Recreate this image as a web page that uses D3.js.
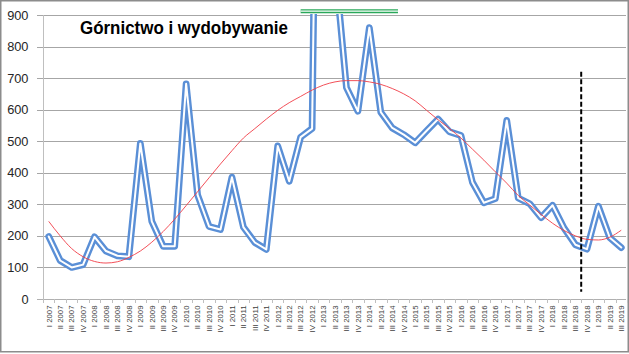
<!DOCTYPE html>
<html><head><meta charset="utf-8">
<script src="https://cdn.jsdelivr.net/npm/d3@7"></script>
<style>body{margin:0;background:#fff}svg{display:block}</style>
</head><body>
<script>
const title = "Górnictwo i wydobywanie";
const categories = [
  "I 2007","II 2007","III 2007","IV 2007",
  "I 2008","II 2008","III 2008","IV 2008",
  "I 2009","II 2009","III 2009","IV 2009",
  "I 2010","II 2010","III 2010","IV 2010",
  "I 2011","II 2011","III 2011","IV 2011",
  "I 2012","II 2012","III 2012","IV 2012",
  "I 2013","II 2013","III 2013","IV 2013",
  "I 2014","II 2014","III 2014","IV 2014",
  "I 2015","II 2015","III 2015","IV 2015",
  "I 2016","II 2016","III 2016","IV 2016",
  "I 2017","II 2017","III 2017","IV 2017",
  "I 2018","II 2018","III 2018","IV 2018",
  "I 2019","II 2019","III 2019"
];
const values = [
  198,122,100,109, 197,152,137,134, 493,246,167,167, 682,330,230,220,
  386,228,179,157, 485,373,513,540, 3300,1060,670,595, 860,592,542,521,
  495,533,570,530, 518,370,305,318, 566,320,302,258, 297,225,172,158,
  294,194,163
];
const trend = [
  246,200,160,134, 119,114,118,132, 152,180,214,253, 296,340,384,428,
  470,510,540,570, 598,622,642,662, 678,688,692,692, 688,680,667,650,
  628,598,568,540, 510,475,440,403, 367,328,298,268, 240,217,200,189,
  187,196,218
];
const yTicks = [0,100,200,300,400,500,600,700,800,900];
const capRange = ["III 2012","III 2014"];   // green cap line over off-scale values
const capValue = 912;
const dividerAfter = "III 2018";             // dashed divider between III and IV 2018
const dividerRange = [23, 720];

const W = 629, H = 354;
const svg = d3.select("body").append("svg").attr("width", W).attr("height", H);

const x = d3.scalePoint().domain(categories).range([43, 627]).padding(0.5);
const y = d3.scaleLinear().domain([0, 900]).range([299, 15]);
const step = x.step();

// outer border
svg.append("rect").attr("x", 0.75).attr("y", 0.75).attr("width", 627.5).attr("height", 351)
  .attr("fill", "#fff").attr("stroke", "#8c8c8c").attr("stroke-width", 1.5);

// gridlines
svg.append("g").selectAll("line").data(yTicks).join("line")
  .attr("x1", 37).attr("x2", 626)
  .attr("y1", d => Math.round(y(d)) + 0.5).attr("y2", d => Math.round(y(d)) + 0.5)
  .attr("stroke", d => d === 0 ? "#b0b0b0" : "#a6a6a6").attr("stroke-width", 1);

// y axis line
svg.append("line").attr("x1", 43.5).attr("x2", 43.5).attr("y1", y(900)).attr("y2", y(0) + 0.5)
  .attr("stroke", "#bfbfbf").attr("stroke-width", 1);

// y tick labels
svg.append("g").selectAll("text").data(yTicks).join("text")
  .attr("x", 28.5).attr("y", d => y(d)).attr("dy", "0.36em")
  .attr("text-anchor", "end").attr("font-family", "Liberation Sans, Arial, sans-serif")
  .attr("font-size", 12.8).attr("fill", "#262626").text(d => d);

// x tick marks (category boundaries)
const bounds = categories.map(c => x(c) - step / 2).concat([x(categories[categories.length - 1]) + step / 2]);
svg.append("g").selectAll("line").data(bounds).join("line")
  .attr("x1", d => Math.round(d) + 0.5).attr("x2", d => Math.round(d) + 0.5)
  .attr("y1", y(0)).attr("y2", y(0) + 4).attr("stroke", "#bfbfbf");

// x labels
svg.append("g").selectAll("text").data(categories).join("text")
  .attr("transform", d => `translate(${x(d) + 2.8},${y(0) + 6.5}) rotate(-90)`)
  .attr("text-anchor", "end").attr("font-family", "Liberation Sans, Arial, sans-serif")
  .attr("font-size", 7.8).attr("fill", "#404040").text(d => d);

// clip
svg.append("clipPath").attr("id", "plotclip").append("rect")
  .attr("x", 38).attr("y", 14).attr("width", 590).attr("height", 300);

const line = d3.line().x((d, i) => x(categories[i])).y(d => y(d));

const plot = svg.append("g").attr("clip-path", "url(#plotclip)");
plot.append("path").datum(values).attr("d", line).attr("fill", "none")
  .attr("stroke", "#5a8fd6").attr("stroke-width", 6.8).attr("stroke-linejoin", "round").attr("stroke-linecap", "round");
plot.append("path").datum(values).attr("d", line).attr("fill", "none")
  .attr("stroke", "#fff").attr("stroke-width", 2).attr("stroke-linejoin", "round").attr("stroke-linecap", "round");

// trend line
svg.append("path").datum(trend).attr("d", d3.line().curve(d3.curveMonotoneX).x((d, i) => x(categories[i])).y(d => y(d)))
  .attr("fill", "none").attr("stroke", "#f03c46").attr("stroke-width", 0.9);

// green cap
const gx1 = x(capRange[0]), gx2 = x(capRange[1]) + step / 2;
svg.append("line").attr("x1", gx1).attr("x2", gx2).attr("y1", y(capValue)).attr("y2", y(capValue))
  .attr("stroke", "#2aa85a").attr("stroke-width", 4);
svg.append("line").attr("x1", gx1).attr("x2", gx2).attr("y1", y(capValue)).attr("y2", y(capValue))
  .attr("stroke", "#fff").attr("stroke-width", 1.2);

// dashed divider
const dx = x(dividerAfter) + step / 2;
svg.append("line").attr("x1", dx).attr("x2", dx).attr("y1", y(dividerRange[1])).attr("y2", y(dividerRange[0]))
  .attr("stroke", "#000").attr("stroke-width", 2).attr("stroke-dasharray", "5,2.5");

// title
svg.append("text").attr("x", 80).attr("y", 33.5)
  .attr("font-family", "Liberation Sans, Arial, sans-serif").attr("font-weight", "bold")
  .attr("font-size", 18).attr("fill", "#000")
  .attr("textLength", 208).attr("lengthAdjust", "spacingAndGlyphs").text(title);
</script>
</body></html>
